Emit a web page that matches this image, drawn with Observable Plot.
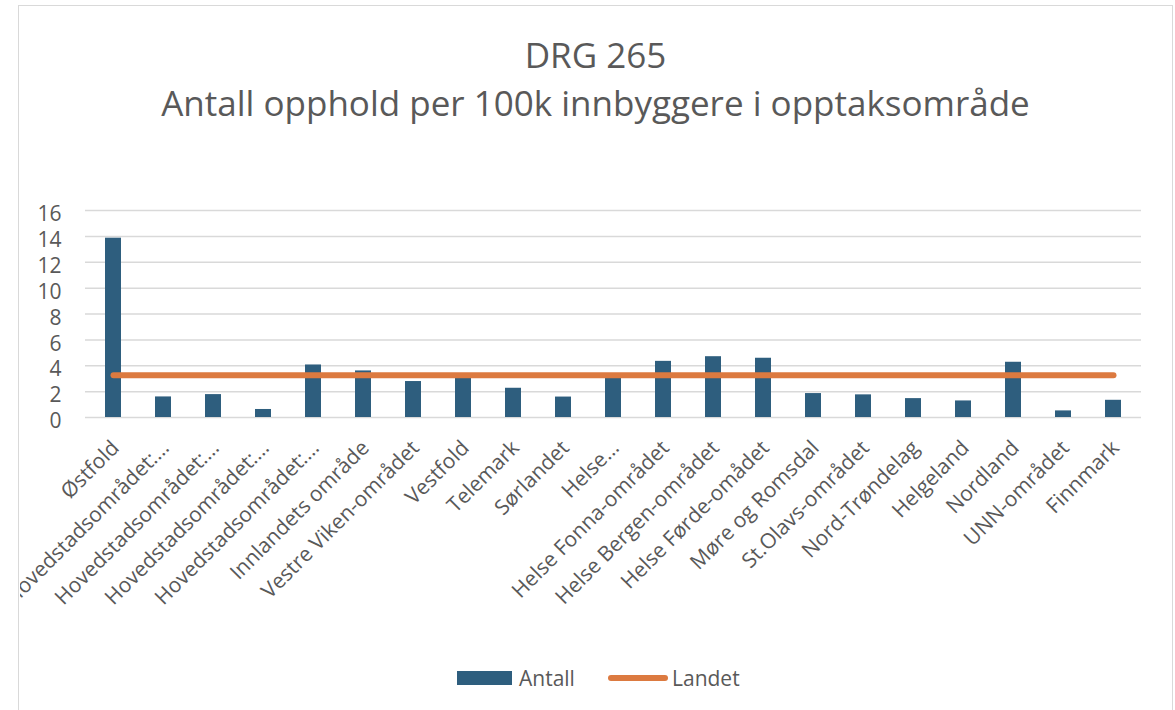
<!DOCTYPE html>
<html>
<head>
<meta charset="utf-8">
<script src="https://cdn.jsdelivr.net/npm/d3@7"></script>
<script src="https://cdn.jsdelivr.net/npm/@observablehq/plot@0.6"></script>
<style>
  body { margin: 0; background: #fff; font-family: "Open Sans", sans-serif; }
  #wrap { position: relative; width: 1175px; height: 710px; overflow: hidden; background: #fff; }
  #frame { position: absolute; left: 18px; top: 5px; width: 1155px; height: 720px; border: 1.5px solid #d9d9d9; box-sizing: border-box; }
  #title { position: absolute; left: 8px; top: 31px; width: 1175px; text-align: center; color: #595959; font-size: 35px; line-height: 48px; }
  #chart { position: absolute; left: 20px; top: 127px; width: 1151px; height: 523px; overflow: hidden; }
  .lg { position: absolute; }
  .lgtext { position: absolute; color: #595959; font-size: 21px; line-height: 24px; top: 666px; }
</style>
</head>
<body>
<div id="wrap">
  <div id="frame"></div>
  <div id="title">DRG 265<br>Antall opphold per 100k innbyggere i opptaksområde</div>
  <div id="chart"></div>
  <div class="lg" style="left:457px;top:671px;width:55px;height:14px;background:#2e5e7e;"></div>
  <div class="lgtext" style="left:519px;">Antall</div>
  <div class="lg" style="left:608px;top:675px;width:60px;height:6px;border-radius:3px;background:#dc7a40;"></div>
  <div class="lgtext" style="left:672px;">Landet</div>
</div>
<script>
const labels = [
  "Østfold",
  "Hovedstadsområdet:…",
  "Hovedstadsområdet:…",
  "Hovedstadsområdet:…",
  "Hovedstadsområdet:…",
  "Innlandets område",
  "Vestre Viken-området",
  "Vestfold",
  "Telemark",
  "Sørlandet",
  "Helse…",
  "Helse Fonna-området",
  "Helse Bergen-området",
  "Helse Førde-omådet",
  "Møre og Romsdal",
  "St.Olavs-området",
  "Nord-Trøndelag",
  "Helgeland",
  "Nordland",
  "UNN-området",
  "Finnmark"
];
const antall = [13.86, 1.59, 1.77, 0.62, 4.06, 3.6, 2.78, 3.05, 2.26, 1.58, 3.1, 4.34, 4.7, 4.58, 1.85, 1.75, 1.46, 1.28, 4.27, 0.51, 1.33];
const landet = [3.26, 3.26, 3.26, 3.26, 3.26, 3.26, 3.26, 3.26, 3.26, 3.26, 3.26, 3.26, 3.26, 3.26, 3.26, 3.26, 3.26, 3.26, 3.26, 3.26, 3.26];
const yTicks = [0, 2, 4, 6, 8, 10, 12, 14, 16];

const rows = labels.map((label, i) => ({ i, label, antall: antall[i], landet: landet[i] }));

const chart = Plot.plot({
  width: 1151,
  height: 523,
  marginLeft: 65,
  marginRight: 30,
  marginTop: 83,
  marginBottom: 233,
  style: { fontFamily: "Open Sans", background: "transparent", overflow: "visible" },
  x: { domain: rows.map(d => d.i), paddingInner: 0.68, paddingOuter: 0.34, label: null },
  y: { domain: [0, 16], label: null },
  marks: [
    Plot.gridY(yTicks, { stroke: "#d9d9d9", strokeOpacity: 1, strokeWidth: 1.5 }),
    Plot.barY(rows, { x: "i", y: "antall", fill: "#2e5e7e" }),
    Plot.lineY(rows, { x: "i", y: "landet", stroke: "#dc7a40", strokeWidth: 6, strokeLinecap: "round" }),
    Plot.axisY({ ticks: yTicks, tickSize: 0, tickPadding: 24, fontSize: 21, dy: 4, fill: "#595959", label: null }),
    Plot.axisX({ tickSize: 0, tickPadding: 27, dx: 2, tickRotate: -45, fontSize: 21, fill: "#595959", tickFormat: i => labels[i], label: null })
  ]
});
document.getElementById("chart").appendChild(chart);
</script>
</body>
</html>
